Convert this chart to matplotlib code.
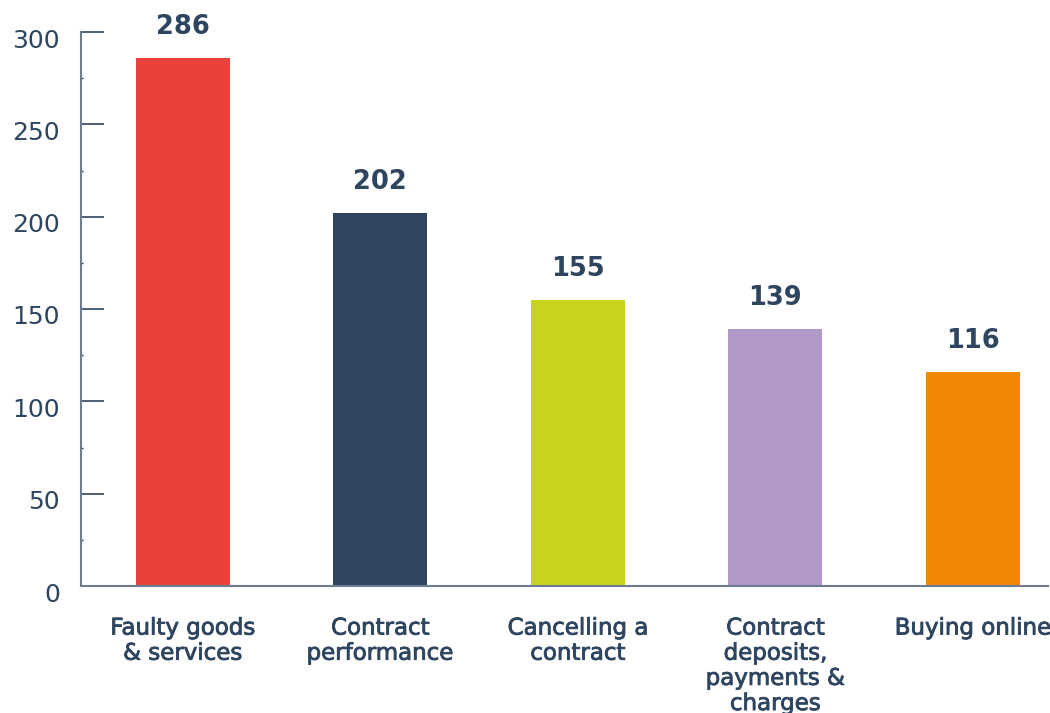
import matplotlib
matplotlib.use("Agg")
import matplotlib.pyplot as plt
import matplotlib.transforms as mtransforms
import matplotlib.patheffects as pe
import numpy as np

categories = ["Faulty goods\n& services", "Contract\nperformance", "Cancelling a\ncontract",
              "Contract\ndeposits,\npayments &\ncharges", "Buying online"]
values = [286, 202, 155, 139, 116]
colors = ["#E8423A", "#2F4560", "#C8D41B", "#B098C8", "#F08705"]
yticks = [0, 50, 100, 150, 200, 250, 300]

text_color = "#2E4560"
plt.rcParams['font.family'] = ['DejaVu Sans']

fig = plt.figure(figsize=(10.5, 7.13), dpi=100)
ax = fig.add_axes([81/1050, 1 - 586/713, (1048-81)/1050, (586-32)/713])

x = np.arange(len(categories))
ax.bar(x, values, width=0.476, color=colors, zorder=2)
for xi, v in zip(x, values):
    ax.annotate(str(v), (xi, v), xytext=(0, 13), textcoords='offset points',
                ha='center', va='bottom', fontsize=18.5, fontweight='bold',
                color=text_color, annotation_clip=False)

ax.set_ylim(0, 300)
ax.set_xlim(-0.514, 4.38)
ax.set_yticks(yticks)
ax.set_yticks(np.arange(25, 300, 50), minor=True)
ax.set_yticklabels([str(t) for t in yticks], fontsize=18, color=text_color)
ax.tick_params(axis='y', which='major', direction='in', length=16.5, width=1.2,
               color=text_color, pad=15)
ax.tick_params(axis='y', which='minor', direction='in', length=1.5, width=1,
               color=text_color)
offset = mtransforms.ScaledTranslation(0, -6/100, fig.dpi_scale_trans)
for lab in ax.get_yticklabels():
    lab.set_transform(lab.get_transform() + offset)

ax.set_xticks(x)
ax.set_xticklabels(categories, fontsize=16.5, color=text_color, linespacing=1.12)
for lab in ax.get_xticklabels():
    lab.set_path_effects([pe.withStroke(linewidth=0.6, foreground=text_color)])
ax.tick_params(axis='x', direction='in', length=0, pad=22)

for s in ['top', 'right']:
    ax.spines[s].set_visible(False)
for s in ['left', 'bottom']:
    ax.spines[s].set_color("#6B7C93")
    ax.spines[s].set_linewidth(1.5)

fig.savefig("out.png", dpi=100)
